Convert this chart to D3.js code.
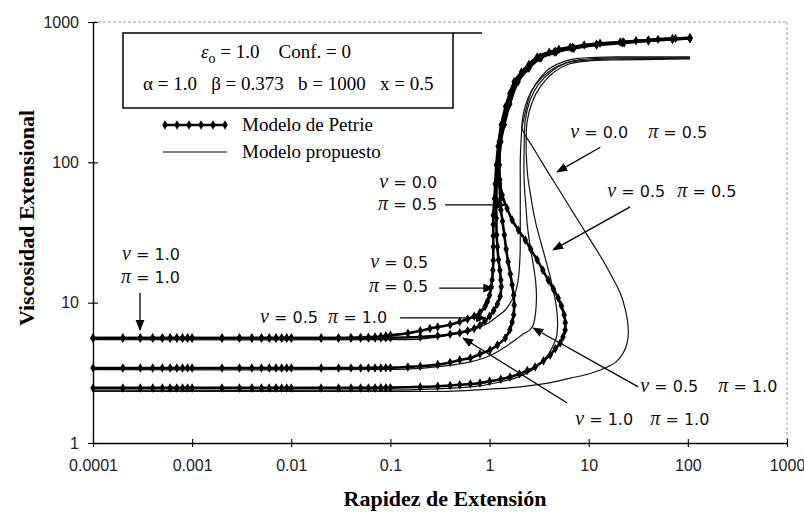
<!DOCTYPE html>
<html><head><meta charset="utf-8">
<script src="https://cdn.jsdelivr.net/npm/d3@7/dist/d3.min.js"></script>
<style>body{margin:0;background:#fff} svg{display:block}</style>
</head><body>
<svg id="c" width="804" height="517"></svg>
<script>
// ---------- data ----------
const xTicks = [0.0001, 0.001, 0.01, 0.1, 1, 10, 100, 1000];
const xTickLabels = ["0.0001", "0.001", "0.01", "0.1", "1", "10", "100", "1000"];
const yTicks = [1, 10, 100, 1000];
const yTickLabels = ["1", "10", "100", "1000"];

// extension rates sampled on the low-rate plateau (Petrie model markers)
const plateauRates = [0.0001,0.0002,0.0003,0.0004,0.0005,0.0006,0.0007,0.0008,0.0009,
  0.001,0.002,0.003,0.004,0.005,0.006,0.007,0.008,0.009,0.01,0.02];

// Petrie model: plateau level + continuation [rate, viscosity]
const petrieLevelA = 5.6;   // v=0.5 pi=1.0
const petrieTailA = [[0.03,5.6],[0.04,5.62],[0.05,5.65],[0.06,5.68],[0.07,5.7],[0.08,5.74],[0.09,5.8],[0.1,5.85],[0.15,6.05],[0.2,6.3],[0.25,6.55],[0.3,6.7],[0.4,6.95],[0.5,7.3],[0.6,7.65],[0.7,8.0],[0.8,8.5],[0.9,9.4],[0.95,10.2],[1.0,11.3],[1.04,13],[1.06,14.5],[1.08,17],[1.09,20],[1.09,25],[1.09,30],[1.09,36],[1.09,42],[1.12,55],[1.14,70],[1.17,96],[1.22,130],[1.31,185],[1.45,250],[1.6,310],[1.77,375],[2.1,440],[2.5,500],[3.02,564],[4,610],[5,640],[6.5,660],[9,685],[13,705],[20.8,720],[30,735],[50,752],[75,762],[105,770]];
const petrieLevelB = 5.6;   // v=1.0 pi=1.0
const petrieTailB = [[0.03,5.6],[0.04,5.6],[0.05,5.6],[0.06,5.6],[0.07,5.61],[0.08,5.61],[0.09,5.62],[0.1,5.62],[0.2,5.7],[0.3,5.8],[0.4,5.95],[0.5,6.1],[0.6,6.3],[0.7,6.55],[0.8,6.9],[0.9,7.4],[1.0,8.0],[1.1,8.8],[1.2,9.8],[1.28,11.1],[1.31,13],[1.3,14.5],[1.27,17],[1.23,20.2],[1.2,25],[1.18,30.4],[1.17,40],[1.17,54],[1.18,75],[1.19,96],[1.25,140],[1.34,185],[1.55,260],[1.85,375],[2.4,470],[3.16,555],[4.5,610],[6.8,650],[12,690],[21.8,712],[40,735],[70,752],[105,762]];
const petrieLevelC = 3.42;  // v=0.5 pi=0.5
const petrieTailC = [[0.03,3.42],[0.04,3.42],[0.05,3.42],[0.06,3.43],[0.07,3.43],[0.08,3.43],[0.09,3.44],[0.1,3.44],[0.15,3.48],[0.2,3.52],[0.3,3.62],[0.4,3.75],[0.5,3.9],[0.64,4.03],[0.8,4.3],[1.01,4.6],[1.2,5.0],[1.44,5.6],[1.6,6.4],[1.69,7.28],[1.75,8.2],[1.77,9.63],[1.75,11.3],[1.69,13.4],[1.62,16],[1.54,19.5],[1.47,24],[1.41,30.4],[1.35,38],[1.3,46],[1.28,54],[1.26,70],[1.25,96],[1.3,140],[1.41,185],[1.6,260],[1.94,375],[2.5,470],[3.3,555],[4.7,610],[7.1,650],[12,685],[22.8,710],[40,735],[70,752],[105,762]];
const petrieLevelD = 2.47;  // v=0.0 pi=0.5
const petrieTailD = [[0.03,2.47],[0.04,2.47],[0.05,2.47],[0.06,2.47],[0.07,2.47],[0.08,2.48],[0.09,2.48],[0.1,2.48],[0.2,2.51],[0.3,2.54],[0.4,2.57],[0.5,2.6],[0.64,2.63],[0.8,2.68],[1.0,2.75],[1.3,2.85],[1.61,2.95],[2.0,3.1],[2.4,3.28],[2.88,3.48],[3.5,3.85],[4.09,4.24],[4.6,4.7],[5.15,5.16],[5.5,5.7],[5.79,6.39],[5.8,7.2],[5.66,8.17],[5.3,9.5],[4.92,10.8],[4.4,12.5],[3.9,14.5],[3.45,17],[3.02,20.2],[2.6,24],[2.29,28],[1.95,33],[1.69,38.8],[1.5,47],[1.34,58.6],[1.27,75],[1.25,96],[1.29,140],[1.37,185],[1.58,260],[1.89,375],[2.45,470],[3.24,564],[4.6,620],[6.9,660],[12,695],[22.3,720],[40,745],[70,762],[105,772]];

// Proposed model (thin lines) [rate, viscosity]
const proposedA = [[0.0001,5.45],[0.1,5.45],[0.2,5.5],[0.31,5.7],[0.45,6.0],[0.64,6.28],[0.8,6.7],[1.01,7.28],[1.2,8.0],[1.44,8.87],[1.65,10.2],[1.81,11.7],[1.93,14],[1.99,17.1],[2.03,22],[2.04,28],[2.04,40],[2.04,54],[2.04,75],[2.04,104],[2.08,144],[2.18,217],[2.45,288],[2.95,362],[4.2,456],[5.8,510],[7.9,537],[12,550],[20.8,555],[50,556],[105,556]];
const proposedB = [[0.0001,3.33],[0.1,3.34],[0.2,3.4],[0.31,3.5],[0.45,3.62],[0.64,3.78],[0.85,4.0],[1.14,4.38],[1.45,4.85],[1.81,5.42],[2.2,6.0],[2.55,6.4],[2.75,6.9],[2.88,8.0],[2.95,9.5],[2.97,11.5],[2.92,14],[2.8,17.5],[2.65,22],[2.51,28],[2.4,36],[2.34,45.7],[2.27,60],[2.23,75],[2.22,95],[2.23,123],[2.29,200],[2.57,279],[3.09,356],[4.28,450],[6,510],[8.0,528],[12,540],[20.8,546],[50,550],[105,552]];
const proposedC = [[0.0001,2.38],[0.1,2.38],[0.25,2.42],[0.5,2.48],[0.8,2.55],[1.2,2.7],[1.81,2.9],[2.4,3.15],[2.88,3.42],[3.4,3.8],[3.9,4.24],[4.35,4.9],[4.7,5.6],[4.85,6.8],[4.81,8.17],[4.65,10],[4.38,12.3],[4.1,15.2],[3.8,18.6],[3.5,23],[3.24,28],[2.95,36],[2.75,45.7],[2.58,60],[2.45,75],[2.38,95],[2.34,123],[2.39,194],[2.69,268],[3.24,345],[4.49,441],[6.2,500],[8.2,520],[12,532],[20.8,537],[50,542],[105,546]];
const proposedD = [[0.0001,2.33],[0.1,2.33],[0.43,2.34],[1.0,2.42],[2.04,2.51],[4,2.68],[6.5,2.9],[10,3.1],[15.4,3.48],[19,3.8],[22.3,4.38],[24.6,5.3],[25,6.71],[23.5,8.8],[20.8,11.7],[17,15.5],[13.8,20.2],[10.7,27],[8.2,36.5],[6.5,47.5],[5.15,62],[4.1,80],[3.24,105],[2.7,130],[2.3,155],[2.13,175],[2.2,200],[2.39,257],[2.6,310],[3.02,375],[3.5,425],[4.09,470],[5.5,520],[7.7,550],[12,560],[19,564],[50,564],[105,564]];

// annotations: label pieces [symbol, value, rate, viscosity, anchor] and arrows [x1,y1,x2,y2]
const labelPieces = [
  ["ν","0.0",6.5,149,"start"],["π","0.5",39.8,149,"start"],
  ["ν","0.5",15.4,56.7,"start"],["π","0.5",78.2,56.7,"start"],
  ["ν","0.0",0.296,65.7,"end"],["π","0.5",0.296,45.8,"end"],
  ["ν","0.5",0.24,17.7,"end"],["π","0.5",0.24,11.9,"end"],
  ["ν","0.5",0.00484,7.17,"start"],["π","1.0",0.0235,7.17,"start"],
  ["ν","1.0",0.000755,20.2,"end"],["π","1.0",0.000755,13.8,"end"],
  ["ν","0.5",33.1,2.31,"start"],["π","1.0",203,2.31,"start"],
  ["ν","1.0",7.31,1.34,"start"],["π","1.0",41.8,1.34,"start"]
];
const arrows = [
  [13.1,128,4.81,85.5],
  [26.2,48.1,4.38,23.8],
  [0.356,49.7,1.44,49.7],
  [0.31,12.7,1.09,12.7],
  [0.125,7.78,0.91,7.78],
  [0.000298,11.7,0.000298,6.39],
  [31.6,2.51,2.75,6.6],
  [6.07,1.93,0.54,5.6]
];

// ---------- drawing ----------
const svg = d3.select("#c");
const x = d3.scaleLog().domain([1e-4, 1e3]).range([93, 787]);
const y = d3.scaleLog().domain([1, 1000]).range([443, 22]);

// frame (dotted top/right)
svg.append("line").attr("x1", x(1e-4)).attr("x2", x(1e3)).attr("y1", y(1000)).attr("y2", y(1000))
  .attr("stroke", "#9a9a9a").attr("stroke-width", 1).attr("stroke-dasharray", "3,2");
svg.append("line").attr("x1", x(1e3)).attr("x2", x(1e3)).attr("y1", y(1000)).attr("y2", y(1))
  .attr("stroke", "#9a9a9a").attr("stroke-width", 1).attr("stroke-dasharray", "3,2");

// axes
const tickFont = "'Liberation Sans', Arial, sans-serif";
const xMinor = x.ticks(100).filter(d => !xTicks.some(t => Math.abs(Math.log10(t) - Math.log10(d)) < 1e-9));
const yMinor = y.ticks(100).filter(d => !yTicks.some(t => Math.abs(Math.log10(t) - Math.log10(d)) < 1e-9));

const gx = svg.append("g").attr("transform", `translate(0,${y(1)})`);
gx.call(d3.axisBottom(x).tickValues(xMinor).tickSize(-3).tickFormat(""));
gx.call(d3.axisBottom(x).tickValues(xTicks).tickSizeInner(4).tickSizeOuter(0).tickFormat((d, i) => xTickLabels[i]));
gx.selectAll(".tick line").filter(function(){return d3.select(this).attr("y2") === "4";}).attr("y1", -4);
gx.selectAll("text").attr("y", 17).attr("font-family", tickFont).attr("font-size", 16).attr("fill", "#222");
gx.selectAll("path.domain").attr("stroke-width", 1.4);
gx.selectAll("line").attr("stroke-width", 1.1);

const gy = svg.append("g").attr("transform", `translate(${x(1e-4)},0)`);
gy.call(d3.axisLeft(y).tickValues(yMinor).tickSize(-4).tickFormat(""));
gy.call(d3.axisLeft(y).tickValues(yTicks).tickSizeInner(5).tickSizeOuter(0).tickFormat((d, i) => yTickLabels[i]));
gy.selectAll(".tick line").filter(function(){return d3.select(this).attr("x2") === "-5";}).attr("x1", 5);
gy.selectAll("text").attr("x", -14).attr("font-family", tickFont).attr("font-size", 16).attr("fill", "#222");
gy.selectAll("path.domain").attr("stroke-width", 1.4);
gy.selectAll("line").attr("stroke-width", 1.1);

// curves
const line = d3.line().x(d => x(d[0])).y(d => y(d[1])).curve(d3.curveCatmullRom.alpha(0.5));
const proposed = [proposedA, proposedB, proposedC, proposedD];
svg.append("g").selectAll("path").data(proposed).join("path")
  .attr("d", line).attr("fill", "none").attr("stroke", "#111").attr("stroke-width", 1.2);

const petrie = [
  plateauRates.map(r => [r, petrieLevelA]).concat(petrieTailA),
  plateauRates.map(r => [r, petrieLevelB]).concat(petrieTailB),
  plateauRates.map(r => [r, petrieLevelC]).concat(petrieTailC),
  plateauRates.map(r => [r, petrieLevelD]).concat(petrieTailD)
];
const diamond = d3.symbol().type(d3.symbolDiamond).size(26);
const gp = svg.append("g");
petrie.forEach(series => {
  gp.append("path").attr("d", line(series)).attr("fill", "none").attr("stroke", "#000").attr("stroke-width", 2.6);
  gp.append("g").selectAll("path").data(series).join("path")
    .attr("d", diamond).attr("transform", d => `translate(${x(d[0])},${y(d[1])})`).attr("fill", "#000");
});

// arrows
svg.append("defs").append("marker").attr("id", "ah").attr("viewBox", "0 0 10 10")
  .attr("refX", 9).attr("refY", 5).attr("markerWidth", 11).attr("markerHeight", 11)
  .attr("markerUnits", "userSpaceOnUse").attr("orient", "auto")
  .append("path").attr("d", "M0,1 L10,5 L0,9 Z").attr("fill", "#000");
svg.append("g").selectAll("line").data(arrows).join("line")
  .attr("x1", d => x(d[0])).attr("y1", d => y(d[1])).attr("x2", d => x(d[2])).attr("y2", d => y(d[3]))
  .attr("stroke", "#000").attr("stroke-width", 1.3).attr("marker-end", "url(#ah)");

// labels
const annFont = "'DejaVu Sans', sans-serif";
const symFont = "'Liberation Serif', 'Times New Roman', serif";
const gl = svg.append("g");
labelPieces.forEach(p => {
  const t = gl.append("text").attr("x", x(p[2])).attr("y", y(p[3])).attr("text-anchor", p[4])
    .attr("font-family", annFont).attr("font-size", 16).attr("fill", "#111").attr("xml:space", "preserve");
  t.append("tspan").attr("font-family", symFont).attr("font-style", "italic").attr("font-size", 20).text(p[0]);
  t.append("tspan").text(" = " + p[1]);
});

// info box + legend
const serif = "'Liberation Serif', 'Times New Roman', serif";
svg.append("rect").attr("x", 123).attr("y", 33).attr("width", 330).attr("height", 75)
  .attr("fill", "#fff").attr("stroke", "#000").attr("stroke-width", 1.5);
svg.append("line").attr("x1", 453).attr("x2", 482).attr("y1", 33).attr("y2", 33).attr("stroke", "#000").attr("stroke-width", 1.5);
const b1 = svg.append("text").attr("x", 201).attr("y", 58).attr("font-family", serif).attr("font-size", 19).attr("xml:space", "preserve");
b1.append("tspan").attr("font-style", "italic").text("ε");
b1.append("tspan").attr("font-size", 14).attr("dy", 5).text("o");
b1.append("tspan").attr("dy", -5).text(" = 1.0    Conf. = 0");
const b2 = svg.append("text").attr("x", 143).attr("y", 90).attr("font-family", serif).attr("font-size", 19).attr("xml:space", "preserve");
b2.append("tspan").text("α = 1.0   β = 0.373   b = 1000   x = 0.5");

svg.append("line").attr("x1", 163).attr("x2", 227).attr("y1", 125).attr("y2", 125).attr("stroke", "#000").attr("stroke-width", 2.4);
svg.append("g").selectAll("path").data([0,1,2,3,4,5]).join("path").attr("d", diamond)
  .attr("transform", i => `translate(${165 + i * 12},125)`).attr("fill", "#000");
svg.append("line").attr("x1", 163).attr("x2", 227).attr("y1", 152).attr("y2", 152).attr("stroke", "#000").attr("stroke-width", 1.2);
svg.append("text").attr("x", 242).attr("y", 131).attr("font-family", serif).attr("font-size", 19).text("Modelo de Petrie");
svg.append("text").attr("x", 242).attr("y", 158).attr("font-family", serif).attr("font-size", 19).text("Modelo propuesto");

// axis titles
svg.append("text").attr("transform", "translate(34,218) rotate(-90)").attr("text-anchor", "middle")
  .attr("font-family", serif).attr("font-weight", "bold").attr("font-size", 22).text("Viscosidad Extensional");
svg.append("text").attr("x", 445).attr("y", 506).attr("text-anchor", "middle")
  .attr("font-family", serif).attr("font-weight", "bold").attr("font-size", 22).text("Rapidez de Extensión");
</script>
</body></html>
